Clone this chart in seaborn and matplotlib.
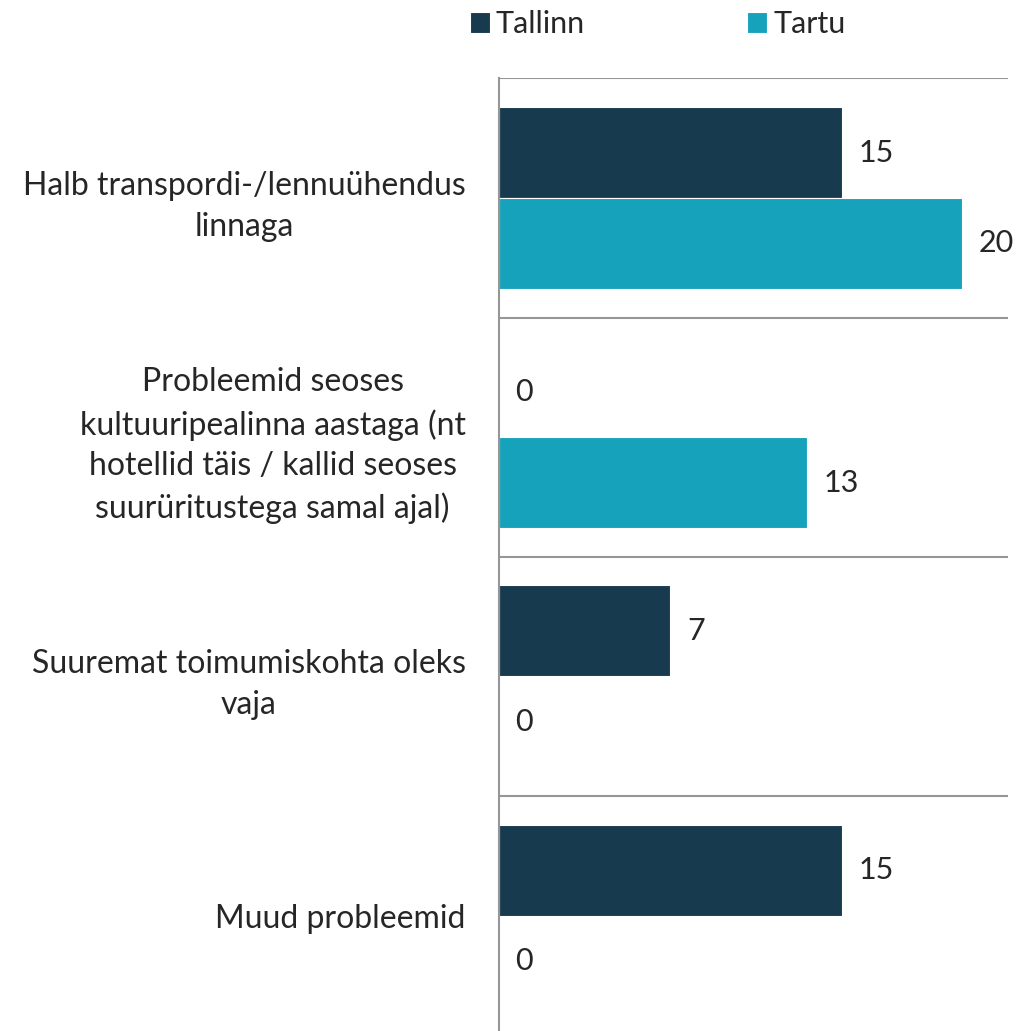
import numpy as np
import pandas as pd
import seaborn as sns
import matplotlib.pyplot as plt

# data
categories = [
    "Halb transpordi-/lennuühendus\nlinnaga",
    "Probleemid seoses\nkultuuripealinna aastaga (nt\nhotellid täis / kallid seoses\nsuurüritustega samal ajal)",
    "Suuremat toimumiskohta oleks\nvaja",
    "Muud probleemid",
]
tallinn = [14.8, 0, 7.4, 14.8]
tartu = [20.0, 13.3, 0, 0]
series = ["Tallinn", "Tartu"]

df = pd.DataFrame({
    "problem": categories * 2,
    "value": tallinn + tartu,
    "city": [series[0]] * 4 + [series[1]] * 4,
})

sns.set_style("white")
plt.rcParams["font.family"] = ["Lato", "DejaVu Sans"]

fig = plt.figure(figsize=(10.33, 10.31), dpi=100)
ax = fig.add_axes([0.483, -0.004, 0.493, 0.928])

sns.barplot(data=df, y="problem", x="value", hue="city", orient="h",
            palette=["#173A4F", "#17A2BB"], saturation=1, width=0.76,
            edgecolor="white", linewidth=0.8, ax=ax)

for c in ax.containers:
    ax.bar_label(c, fmt="%.0f", padding=12, fontsize=22)

ax.set_xlim(0, 22)
ax.set_ylim(3.5, -0.5)
ax.set_xlabel("")
ax.set_ylabel("")
ax.set_xticks([])
ax.tick_params(axis="y", which="major", length=0, pad=24, labelsize=23)
for t in ax.get_yticklabels():
    t.set_multialignment("center")
    t.set_linespacing(1.45)

ax.set_yticks(np.arange(-0.5, 4, 1), minor=True)
ax.tick_params(axis="y", which="minor", length=8, width=1.5, color="#969696")
ax.grid(axis="y", which="minor", color="#969696", linewidth=1.5)
ax.set_axisbelow(True)

for s in ["top", "right", "bottom"]:
    ax.spines[s].set_visible(False)
ax.spines["left"].set_color("#969696")
ax.spines["left"].set_linewidth(1.5)

ax.legend(loc="upper left", bbox_to_anchor=(0.455, 0.990),
          bbox_transform=fig.transFigure, ncol=2, frameon=False,
          fontsize=22, borderpad=0, borderaxespad=0,
          handlelength=0.65, handleheight=0.65, handletextpad=0.2,
          columnspacing=5.3)

fig.savefig("out.png", dpi=100)
